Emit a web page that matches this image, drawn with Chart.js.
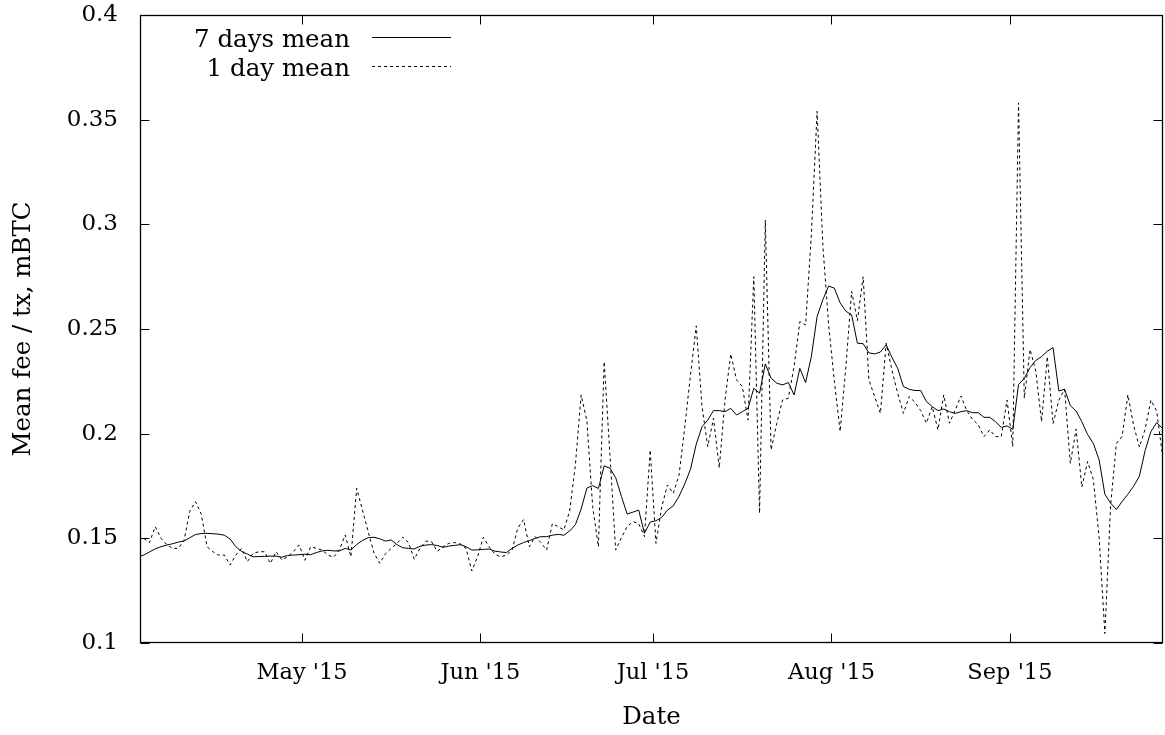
<!DOCTYPE html>
<html>
<head>
<meta charset="utf-8">
<title>Mean fee per transaction</title>
<script src="https://cdn.jsdelivr.net/npm/chart.js@4.4.0/dist/chart.umd.min.js"></script>
<style>
  html, body { margin: 0; padding: 0; background: #ffffff; }
  #wrap { width: 1165px; height: 735px; }
</style>
</head>
<body>
<div id="wrap"><canvas id="fees" width="1165" height="735"></canvas></div>
<script>
// First day of the series; one value per day follows.
const firstDay = '2015-04-02';

// Mean fee per transaction, mBTC, 7-day rolling mean
const sevenDayMean = [
  0.1414, 0.142, 0.1435, 0.145, 0.146, 0.1468, 0.1474, 0.1482, 0.1487, 0.1503,
  0.1518, 0.1523, 0.1524, 0.1522, 0.152, 0.1515, 0.1497, 0.146, 0.1437, 0.1425,
  0.1412, 0.1413, 0.1414, 0.1415, 0.1415, 0.141, 0.1418, 0.142, 0.1422, 0.1424,
  0.1422, 0.1432, 0.144, 0.1443, 0.144, 0.144, 0.1452, 0.1444, 0.147, 0.149,
  0.1503, 0.1505, 0.1498, 0.1487, 0.1492, 0.147, 0.1455, 0.1452, 0.1449, 0.1462,
  0.1468, 0.147, 0.1466, 0.1457, 0.1463, 0.1466, 0.147, 0.146, 0.1444, 0.1445,
  0.1447, 0.1449, 0.1439, 0.1435, 0.1432, 0.1452, 0.1468, 0.148, 0.1489, 0.15,
  0.1508, 0.1508, 0.1515, 0.1519, 0.1515, 0.1535, 0.1565, 0.164, 0.174, 0.1752,
  0.1738, 0.1846, 0.1835, 0.179, 0.17, 0.1616, 0.1625, 0.1635, 0.1524, 0.1578,
  0.1584, 0.16, 0.1635, 0.1655, 0.17, 0.176, 0.183, 0.195, 0.2033, 0.2065,
  0.211, 0.211, 0.2105, 0.2121, 0.2089, 0.2105, 0.2121, 0.2217, 0.2193, 0.2333,
  0.2265, 0.2241, 0.2233, 0.2244, 0.2185, 0.2312, 0.2244, 0.2368, 0.256, 0.264,
  0.2705, 0.2695, 0.2625, 0.2585, 0.2567, 0.2432, 0.243, 0.2386, 0.2381, 0.239,
  0.2424, 0.2365, 0.2312, 0.2225, 0.2212, 0.2206, 0.2206, 0.2153, 0.2129, 0.211,
  0.2118, 0.2105, 0.2097, 0.2105, 0.211, 0.21, 0.21, 0.2078, 0.2078, 0.2057,
  0.203, 0.2037, 0.2021, 0.2235, 0.2264, 0.2316, 0.235, 0.2368, 0.2394, 0.2411,
  0.2204, 0.2212, 0.2134, 0.2108, 0.2057, 0.1996, 0.1953, 0.1875, 0.1711, 0.1668,
  0.1638, 0.1676, 0.1711, 0.1749, 0.1797, 0.192, 0.201, 0.2053, 0.2025, 0.2
];

// Mean fee per transaction, mBTC, per single day
const oneDayMean = [
  0.15, 0.15, 0.148, 0.1556, 0.15, 0.147, 0.1452, 0.1452, 0.149, 0.163,
  0.1675, 0.1615, 0.146, 0.1436, 0.142, 0.142, 0.1373, 0.142, 0.1452, 0.1389,
  0.1428, 0.1436, 0.1436, 0.138, 0.1436, 0.1397, 0.1412, 0.1436, 0.1468, 0.1395,
  0.146, 0.1452, 0.1444, 0.142, 0.141, 0.1445, 0.1516, 0.1412, 0.1739, 0.1635,
  0.1532, 0.143, 0.1381, 0.1426, 0.1452, 0.1476, 0.1505, 0.148, 0.14, 0.1452,
  0.1487, 0.1484, 0.1438, 0.146, 0.1476, 0.148, 0.1473, 0.1452, 0.1344, 0.1412,
  0.1505, 0.146, 0.1425, 0.1412, 0.142, 0.1444, 0.155, 0.159, 0.146, 0.1508,
  0.148, 0.1444, 0.157, 0.1556, 0.154, 0.163, 0.185, 0.2185, 0.2061, 0.1652,
  0.146, 0.2344, 0.19, 0.1444, 0.1503, 0.1556, 0.158, 0.157, 0.1508, 0.1922,
  0.1476, 0.165, 0.1755, 0.1715, 0.18, 0.203, 0.228, 0.2515, 0.213, 0.1938,
  0.2073, 0.1836, 0.2161, 0.2381, 0.2257, 0.2225, 0.2065, 0.275, 0.162, 0.3021,
  0.1922, 0.205, 0.2161, 0.2169, 0.232, 0.2535, 0.2519, 0.295, 0.354, 0.29,
  0.252, 0.225, 0.201, 0.232, 0.268, 0.254, 0.275, 0.2257, 0.2177, 0.2097,
  0.2432, 0.2304, 0.2193, 0.2097, 0.2177, 0.215, 0.211, 0.205, 0.2129, 0.2018,
  0.2185, 0.205, 0.2113, 0.218, 0.211, 0.2069, 0.2042, 0.1986, 0.2018, 0.1986,
  0.1986, 0.2161, 0.1938, 0.358, 0.2169, 0.2402, 0.2299, 0.2057, 0.2368, 0.2048,
  0.216, 0.2212, 0.1858, 0.2022, 0.1745, 0.1867, 0.178, 0.1504, 0.1045, 0.1659,
  0.1953, 0.1987, 0.2186, 0.2039, 0.1936, 0.2022, 0.216, 0.2108, 0.19, 0.19
];

// Month ticks on the date axis
const tickDates = ['2015-05-01', '2015-06-01', '2015-07-01', '2015-08-01', '2015-09-01'];
const tickLabels = ["May '15", "Jun '15", "Jul '15", "Aug '15", "Sep '15"];

// Value axis ticks
const yTicks = [0.1, 0.15, 0.2, 0.25, 0.3, 0.35, 0.4];
const yTickLabels = ['0.1', '0.15', '0.2', '0.25', '0.3', '0.35', '0.4'];

const seriesNames = ['7 days mean', '1 day mean'];
const axisTitles = { x: 'Date', y: 'Mean fee / tx, mBTC' };

// ---- helpers -------------------------------------------------------------
const DAY = 86400000;
const origin = Date.UTC(2015, 4, 1);
function dayNumber(iso) {
  const [y, m, d] = iso.split('-').map(Number);
  return (Date.UTC(y, m - 1, d) - origin) / DAY;
}
const start = dayNumber(firstDay);
// daily means are placed at midday
const toPoints = vals => vals.map((v, i) => ({ x: start + i + 0.5, y: v }));
const tickValues = tickDates.map(dayNumber);

const FONT = "'DejaVu Serif', 'Liberation Serif', serif";
const INK = '#000000';

// Box frame with inward ticks on all four sides, plus the key in the top-left.
const framePlugin = {
  id: 'frame',
  afterDatasetsDraw(chart) {
    const { ctx, chartArea: a, scales } = chart;
    const L = Math.round(a.left) + 0.5, R = Math.round(a.right) - 0.5;
    const T = Math.round(a.top) + 0.5, B = Math.round(a.bottom) - 0.5;
    const len = 9;
    ctx.save();
    ctx.strokeStyle = INK;
    ctx.lineWidth = 1.3;
    ctx.setLineDash([]);
    ctx.strokeRect(L, T, R - L, B - T);
    ctx.lineWidth = 1;
    ctx.beginPath();
    tickValues.forEach(v => {
      const px = Math.round(scales.x.getPixelForValue(v)) + 0.5;
      ctx.moveTo(px, B); ctx.lineTo(px, B - len);
      ctx.moveTo(px, T); ctx.lineTo(px, T + len);
    });
    yTicks.forEach(v => {
      const py = Math.round(scales.y.getPixelForValue(v)) + 0.5;
      ctx.moveTo(L, py); ctx.lineTo(L + len, py);
      ctx.moveTo(R, py); ctx.lineTo(R - len, py);
    });
    ctx.stroke();

    // key
    ctx.font = `24.5px ${FONT}`;
    ctx.fillStyle = INK;
    ctx.textAlign = 'right';
    ctx.textBaseline = 'middle';
    const textRight = a.left + 210;
    const lineX0 = a.left + 232, lineX1 = a.left + 311;
    const rows = [a.top + 22, a.top + 51];
    chart.data.datasets.forEach((ds, i) => {
      const y = rows[i];
      ctx.fillText(ds.label, textRight, y + 4);
      ctx.beginPath();
      ctx.lineWidth = ds.borderWidth;
      ctx.setLineDash(ds.borderDash || []);
      ctx.moveTo(lineX0, Math.round(y) + 0.5);
      ctx.lineTo(lineX1, Math.round(y) + 0.5);
      ctx.stroke();
    });
    ctx.restore();
  }
};

new Chart(document.getElementById('fees'), {
  type: 'line',
  data: {
    datasets: [
      {
        label: seriesNames[0],
        data: toPoints(sevenDayMean),
        borderColor: INK,
        borderWidth: 1,
        borderDash: [],
        pointRadius: 0,
        tension: 0,
        fill: false
      },
      {
        label: seriesNames[1],
        data: toPoints(oneDayMean),
        borderColor: INK,
        borderWidth: 1,
        borderDash: [3, 3],
        pointRadius: 0,
        tension: 0,
        fill: false
      }
    ]
  },
  options: {
    responsive: false,
    devicePixelRatio: 1,
    animation: false,
    events: [],
    layout: { padding: { left: 0, right: 2, top: 15, bottom: 0 } },
    plugins: { legend: { display: false }, tooltip: { enabled: false } },
    scales: {
      x: {
        type: 'linear',
        min: start + 0.85,
        max: dayNumber('2015-09-27') + 0.6,
        grid: { display: false, drawTicks: false },
        border: { display: false },
        afterBuildTicks: s => { s.ticks = tickValues.map(v => ({ value: v })); },
        afterFit: s => { s.height = 92; s.paddingLeft = 0; s.paddingRight = 0; },
        ticks: {
          autoSkip: false,
          maxRotation: 0,
          padding: 17,
          color: INK,
          font: { family: FONT, size: 22.5 },
          callback: (v, i) => tickLabels[i]
        },
        title: {
          display: true,
          text: axisTitles.x,
          color: INK,
          font: { family: FONT, size: 24.5 },
          padding: { top: 0, bottom: 3 }
        }
      },
      y: {
        type: 'linear',
        min: 0.1,
        max: 0.4,
        grid: { display: false, drawTicks: false },
        border: { display: false },
        afterBuildTicks: s => { s.ticks = yTicks.map(v => ({ value: v })); },
        afterFit: s => { s.width = 140; s.paddingTop = 0; s.paddingBottom = 0; },
        ticks: {
          padding: 22,
          color: INK,
          font: { family: FONT, size: 23 },
          callback: (v, i) => yTickLabels[i]
        },
        title: {
          display: true,
          text: axisTitles.y,
          color: INK,
          font: { family: FONT, size: 24.5 },
          padding: { top: 9, bottom: 0 }
        }
      }
    }
  },
  plugins: [framePlugin]
});
</script>
</body>
</html>
